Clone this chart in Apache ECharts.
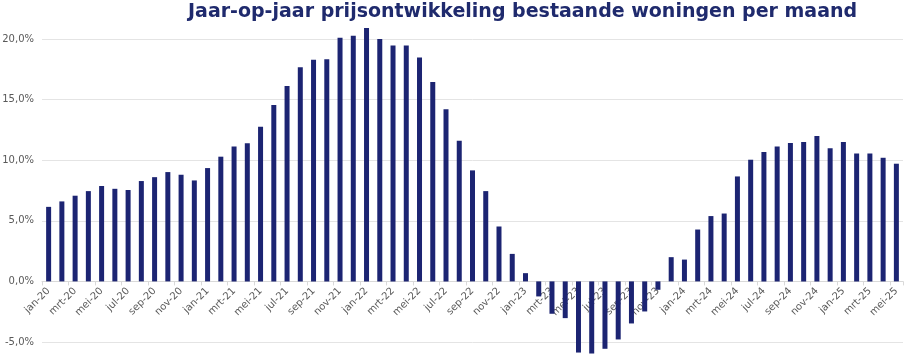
<!DOCTYPE html>
<html>
<head>
<meta charset="utf-8">
<script src="https://cdn.jsdelivr.net/npm/echarts@6/dist/echarts.min.js"></script>
<style>
html,body{margin:0;padding:0;background:#fff;}
#chart{width:907px;height:361px;}
</style>
</head>
<body>
<div id="chart"></div>
<script>
const titleText = 'Jaar-op-jaar prijsontwikkeling bestaande woningen per maand';
const months = ['jan','feb','mrt','apr','mei','jun','jul','aug','sep','okt','nov','dec'];
const years = ['20','21','22','23','24','25'];
const categories = [];
years.forEach(y => months.forEach(m => categories.push(m + '-' + y)));
categories.length = 65; // jan-20 .. mei-25

const values2020 = [6.15, 6.6, 7.07, 7.45, 7.87, 7.64, 7.54, 8.28, 8.6, 9.02, 8.8, 8.33];
const values2021 = [9.35, 10.29, 11.14, 11.39, 12.77, 14.56, 16.13, 17.67, 18.28, 18.33, 20.1, 20.26];
const values2022 = [20.9, 20.0, 19.46, 19.46, 18.47, 16.46, 14.2, 11.6, 9.16, 7.45, 4.53, 2.27];
const values2023 = [0.68, -1.24, -2.67, -3.03, -5.87, -5.95, -5.56, -4.79, -3.47, -2.48, -0.69, 2.0];
const values2024 = [1.8, 4.28, 5.39, 5.6, 8.66, 10.04, 10.67, 11.14, 11.42, 11.5, 12.0, 10.98];
const values2025 = [11.5, 10.56, 10.56, 10.2, 9.71];
const values = [].concat(values2020, values2021, values2022, values2023, values2024, values2025);

const yMin = -5, yMax = 20, yInterval = 5;

const W = 907, H = 361;
const gridTop = 39, gridBottom = 19;
const gridH = H - gridTop - gridBottom;
const zeroOffset = -gridH * (0 - yMin) / (yMax - yMin);

const chart = echarts.init(document.getElementById('chart'), null, {renderer: 'canvas'});
chart.setOption({
  animation: false,
  backgroundColor: '#ffffff',
  title: {
    text: titleText,
    left: 183,
    top: -2,
    textStyle: {
      fontFamily: 'DejaVu Sans',
      fontWeight: 'bold',
      fontSize: 19,
      color: '#1f2a6d'
    }
  },
  grid: {left: 42, right: 4, top: gridTop, bottom: gridBottom, containLabel: false, outerBoundsMode: 'none'},
  xAxis: {
    type: 'category',
    data: categories,
    boundaryGap: true,
    position: 'bottom',
    offset: zeroOffset,
    z: 0,
    axisLine: {show: true, onZero: false, lineStyle: {color: '#d9d9d9', width: 1}},
    axisTick: {show: true, interval: 1, length: 4, lineStyle: {color: '#d9d9d9'}},
    axisLabel: {
      interval: 1,
      rotate: 45,
      margin: 8,
      fontFamily: 'DejaVu Sans',
      fontSize: 10,
      color: '#595959'
    }
  },
  yAxis: {
    type: 'value',
    min: yMin,
    max: yMax,
    interval: yInterval,
    axisLine: {show: false},
    axisTick: {show: false},
    splitLine: {lineStyle: {color: '#e4e4e4', width: 1}},
    axisLabel: {
      margin: 8,
      fontFamily: 'DejaVu Sans',
      fontSize: 10,
      color: '#595959',
      formatter: v => v.toFixed(1).replace('.', ',') + '%'
    }
  },
  series: [{
    type: 'bar',
    data: values,
    barWidth: 5,
    clip: false,
    zlevel: 1,
    itemStyle: {color: '#1c2472'}
  }]
});
</script>
</body>
</html>
